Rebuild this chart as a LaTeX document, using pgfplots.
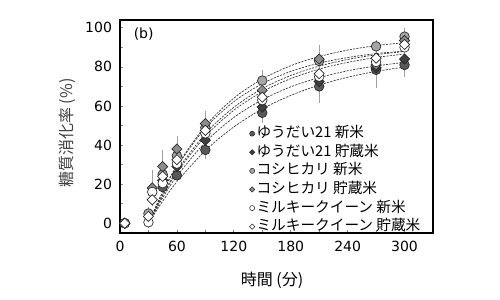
\documentclass[border=0pt]{standalone}
\usepackage{fontspec}
\setmainfont{DejaVu Sans}
\newfontfamily\jp{Noto Sans CJK JP}
\usepackage{pgfplots}
\usepackage{pgfplotstable}
\pgfplotsset{compat=1.18}
\definecolor{c1}{HTML}{595959}
\definecolor{c2}{HTML}{3F3F3F}
\definecolor{c3}{HTML}{A6A6A6}
\definecolor{c4}{HTML}{8C8C8C}
\definecolor{edge}{HTML}{262626}
\definecolor{errc}{HTML}{A0A0A0}
\definecolor{fitc}{HTML}{333333}

% data: time (min), digestion rate (%), error
\pgfplotstableread{
x y e
5 0 0
45 18.5 2
60 24.5 2
90 37.5 3.5
150 56.5 4
210 70 7
270 78.5 8
300 81 5
}\sOne
\pgfplotstableread{
x y e
5 0 0
45 22 1.5
60 29 1.5
90 42.5 1.5
150 59.5 1.5
210 72.5 1.5
270 79.5 1.5
300 84 1.5
}\sTwo
\pgfplotstableread{
x y e
5 0 0
30 5 2
45 25 2
60 34.5 2
90 49 2
150 73 4
210 83 2
270 90.5 2
300 95.5 3
}\sThree
\pgfplotstableread{
x y e
5 0 0
34 18 8
45 29 7
60 38 5.5
90 51 5
150 68 3
210 84 6
270 81 3
300 93.5 2
}\sFour
\pgfplotstableread{
x y e
5 0 0
30 0.5 1.5
34 16 1.5
45 20.5 1.5
60 30.5 1.5
90 46 1.5
150 63 1.5
210 75 1.5
270 82.5 1.5
300 90 1.5
}\sFive
\pgfplotstableread{
x y e
5 0 0
30 3.5 1.5
34 12 1.5
45 24 1.5
60 32.5 1.5
90 47.5 1.5
150 64.5 1.5
210 76.5 1.5
270 84.5 1.5
300 91.5 1.5
}\sSix
% fitted curves
\pgfplotstableread{
x f1 f2 f3 f4 f5 f6
30 0 0 0 0 0 0
45 11.3 13.0 16.1 15.9 14.1 14.6
60 21.2 24.1 29.4 29.0 26.0 26.8
90 37.2 41.5 49.8 48.8 44.5 45.9
120 49.3 54.1 64.0 62.2 57.8 59.3
150 58.5 63.2 73.8 71.4 67.3 68.9
180 65.4 69.8 80.6 77.7 74.0 75.6
210 70.7 74.5 85.3 81.9 78.9 80.4
240 74.7 78.0 88.6 84.8 82.3 83.8
270 77.7 80.5 90.9 86.8 84.8 86.2
300 79.9 82.3 92.4 88.1 86.6 87.9
}\fits

\begin{document}
\begin{tikzpicture}
\useasboundingbox (-90pt,-50.25pt) rectangle (285pt,174.75pt);
\begin{axis}[
  at={(0,0)}, anchor=south west,
  scale only axis, width=234.75pt, height=159.75pt,
  xmin=0, xmax=330, ymin=-5, ymax=104,
  xtick={0,60,...,300}, ytick={0,20,...,100},
  minor xtick={30,90,...,270}, minor ytick={10,30,...,90},
  tick align=inside, tick pos=left,
  major tick length=2.5pt, minor tick length=2.5pt,
  tick style={color=gray, line width=0.5pt},
  axis line style={line width=1.1pt, black},
  /pgf/number format/assume math mode=true,
  every tick label/.append style={font=\fontsize{10.5}{12}\selectfont},
  xticklabel style={yshift=-2.5pt},
  yticklabel style={xshift=-2.5pt},
  xlabel={\jp 時間 (分)},
  ylabel={\jp 糖質消化率 (\%)},
  label style={font=\jp\fontsize{12}{14}\selectfont},
  xlabel style={at={(axis description cs:0.486,-0.221)}, anchor=center},
  ylabel style={at={(axis description cs:-0.169,0.469)}, anchor=center, text=black!75},
  legend style={at={(0.413,0.507)}, anchor=north west, draw=none, fill=none,
    inner sep=0pt, row sep=1.35pt, font=\jp\fontsize{11}{13}\selectfont,
    nodes={inner sep=1.3pt, text height=8pt, text depth=2pt}},
  legend cell align=left,
  legend image code/.code={\draw[#1] plot coordinates {(0pt,0pt)};},
  error bars/y dir=both, error bars/y explicit,
  error bars/error bar style={draw=errc, line width=0.5pt},
  error bars/error mark options={draw=errc, mark size=1.8pt, line width=0.5pt},
]
% fitted curves
\foreach \f in {f1,f2,f3,f4,f5,f6}{
  \addplot[forget plot, draw=fitc, line width=0.5pt, dash pattern=on 1.6pt off 0.9pt, smooth, no markers, error bars/y dir=none] table[x=x, y=\f] {\fits};
}
% error bars (behind markers)
\addplot[forget plot, only marks, mark=none] table[x=x,y=y,y error=e] {\sOne};
\addplot[forget plot, only marks, mark=none] table[x=x,y=y,y error=e] {\sTwo};
\addplot[forget plot, only marks, mark=none] table[x=x,y=y,y error=e] {\sThree};
\addplot[forget plot, only marks, mark=none] table[x=x,y=y,y error=e] {\sFour};
\addplot[forget plot, only marks, mark=none] table[x=x,y=y,y error=e] {\sFive};
\addplot[forget plot, only marks, mark=none] table[x=x,y=y,y error=e] {\sSix};
% markers
\addplot[forget plot, only marks, mark=*, mark size=3.6pt, mark options={fill=c1, draw=edge, line width=0.5pt}, error bars/y dir=none] table[x=x,y=y] {\sOne};
\addplot[forget plot, only marks, mark=square*, mark size=2.7pt, mark options={rotate=45, fill=c2, draw=edge, line width=0.5pt}, error bars/y dir=none] table[x=x,y=y] {\sTwo};
\addplot[forget plot, only marks, mark=*, mark size=3.6pt, mark options={fill=c3, draw=edge, line width=0.5pt}, error bars/y dir=none] table[x=x,y=y] {\sThree};
\addplot[forget plot, only marks, mark=square*, mark size=2.7pt, mark options={rotate=45, fill=c4, draw=edge, line width=0.5pt}, error bars/y dir=none] table[x=x,y=y] {\sFour};
\addplot[forget plot, only marks, mark=*, mark size=3.6pt, mark options={fill=white, draw=edge, line width=0.5pt}, error bars/y dir=none] table[x=x,y=y] {\sFive};
\addplot[forget plot, only marks, mark=square*, mark size=2.7pt, mark options={rotate=45, fill=white, draw=edge, line width=0.5pt}, error bars/y dir=none] table[x=x,y=y] {\sSix};
% legend
\addlegendimage{only marks, mark=*, mark size=1.9pt, mark options={fill=c1, draw=edge, line width=0.4pt}}
\addlegendentry{ゆうだい21 新米}
\addlegendimage{only marks, mark=square*, mark size=1.4pt, mark options={rotate=45, fill=c2, draw=edge, line width=0.4pt}}
\addlegendentry{ゆうだい21 貯蔵米}
\addlegendimage{only marks, mark=*, mark size=1.9pt, mark options={fill=c3, draw=edge, line width=0.4pt}}
\addlegendentry{コシヒカリ 新米}
\addlegendimage{only marks, mark=square*, mark size=1.4pt, mark options={rotate=45, fill=c4, draw=edge, line width=0.4pt}}
\addlegendentry{コシヒカリ 貯蔵米}
\addlegendimage{only marks, mark=*, mark size=1.9pt, mark options={fill=white, draw=edge, line width=0.4pt}}
\addlegendentry{ミルキークイーン 新米}
\addlegendimage{only marks, mark=square*, mark size=1.4pt, mark options={rotate=45, fill=white, draw=edge, line width=0.4pt}}
\addlegendentry{ミルキークイーン 貯蔵米}
\node[anchor=west, font=\fontsize{10.5}{12}\selectfont] at (rel axis cs:0.029,0.934) {(b)};
\end{axis}
\end{tikzpicture}
\end{document}
